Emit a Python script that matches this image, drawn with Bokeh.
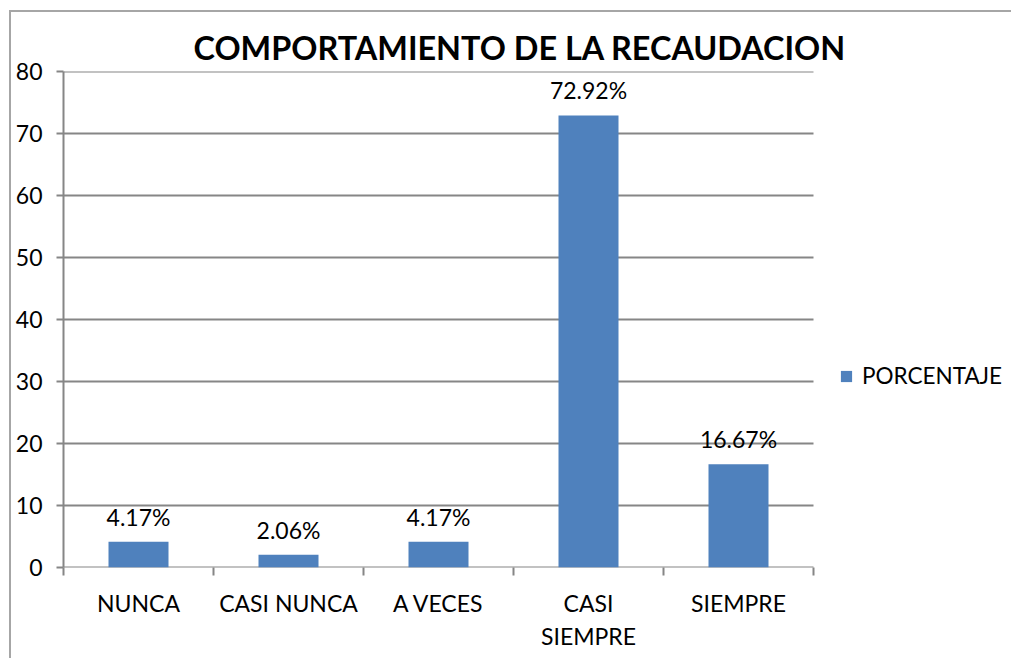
from bokeh.plotting import figure
from bokeh.models import (Range1d, FixedTicker, LinearAxis, ColumnDataSource,
                          LabelSet, Legend, LegendItem, Title)
from bokeh.core.properties import value
from bokeh.embed import file_html
from bokeh.resources import INLINE

# ---- data ----
categories = ["NUNCA", "CASI NUNCA", "A VECES", "CASI\nSIEMPRE", "SIEMPRE"]
values = [4.17, 2.06, 4.17, 72.92, 16.67]
value_labels = ["4.17%", "2.06%", "4.17%", "72.92%", "16.67%"]
y_ticks = [0, 10, 20, 30, 40, 50, 60, 70, 80]
series_name = "PORCENTAJE"
title_text = "COMPORTAMIENTO DE LA RECAUDACION"

# ---- styling ----
FONT = "Lato"
BAR = "#4F81BD"
AXIS = "#868686"
TXT = "#000000"

W, H = 1002, 648
ML, MR, MT, MB = 52, 4, 59, 93
PLOT_W = 750                      # pixel width of the category area
frame_w = W - ML - MR

n = len(categories)
xpos = [i + 0.5 for i in range(n)]
src = ColumnDataSource(dict(x=xpos, top=values, label=value_labels))
grid_src = ColumnDataSource(dict(x0=[0] * len(y_ticks), x1=[n] * len(y_ticks), y=y_ticks))

p = figure(width=W, height=H, x_range=Range1d(0, n * frame_w / PLOT_W),
           y_range=Range1d(0, y_ticks[-1]),
           output_backend="svg", toolbar_location=None, x_axis_type=None,
           min_border_left=ML, min_border_right=MR, min_border_top=MT, min_border_bottom=MB)
p.styles = {"border-left": "2px solid #a6a6a6", "border-top": "2px solid #a6a6a6",
            "margin-left": "9px", "margin-top": "10px"}
p.outline_line_color = None
p.background_fill_color = "white"
p.border_fill_color = "white"
p.xgrid.grid_line_color = None
p.ygrid.grid_line_color = None

# horizontal gridlines limited to the category area
p.segment(x0="x0", x1="x1", y0="y", y1="y", source=grid_src, line_color=AXIS, line_width=2)

bars = p.vbar(x="x", top="top", width=0.4, source=src, color=BAR, line_color=None)

# y axis
ya = p.yaxis[0]
ya.ticker = FixedTicker(ticks=y_ticks)
ya.axis_line_color = AXIS
ya.axis_line_width = 2
ya.major_tick_line_color = AXIS
ya.major_tick_line_width = 2
ya.major_tick_in = 0
ya.major_tick_out = 7
ya.minor_tick_line_color = None
ya.major_label_text_font = FONT
ya.major_label_text_font_size = "23px"
ya.major_label_text_color = TXT
ya.major_label_standoff = 14

# x tick axis (ticks at category boundaries)
xt = LinearAxis(ticker=FixedTicker(ticks=list(range(n + 1))))
xt.axis_line_color = None
xt.major_tick_line_color = AXIS
xt.major_tick_line_width = 2
xt.major_tick_in = 0
xt.major_tick_out = 8
xt.minor_tick_line_color = None
xt.major_label_overrides = {i: "" for i in range(n + 1)}
xt.major_label_text_font_size = "1px"
xt.major_label_standoff = 0
p.add_layout(xt, "below")

# x label axis (labels at category centers)
xl = LinearAxis(ticker=FixedTicker(ticks=xpos))
xl.axis_line_color = None
xl.major_tick_line_color = None
xl.minor_tick_line_color = None
xl.major_label_overrides = {x: c for x, c in zip(xpos, categories)}
xl.major_label_text_font = FONT
xl.major_label_text_font_size = "23px"
xl.major_label_text_color = TXT
xl.major_label_standoff = 7
p.add_layout(xl, "below")

# data labels
labels = LabelSet(x="x", y="top", text="label", source=src, y_offset=16,
                  text_align="center", text_baseline="alphabetic",
                  text_font=value(FONT), text_font_size=value("23px"), text_color=TXT)
p.add_layout(labels)

# title
title = Title(text=title_text, align="left", offset=130, vertical_align="bottom",
              text_font=FONT, text_font_style="bold", text_font_size="32.4px",
              text_color=TXT, standoff=10)
p.add_layout(title, "above")

# legend (inside the widened frame, right of the category area)
legend = Legend(items=[LegendItem(label=series_name, renderers=[bars])],
                location=(776, 178), orientation="vertical",
                glyph_width=14, glyph_height=14, label_standoff=9,
                label_text_font=FONT, label_text_font_size="22.5px", label_text_color=TXT,
                padding=0, margin=0, spacing=0,
                border_line_color=None, background_fill_alpha=0)
p.add_layout(legend, "center")

open("out.html", "w").write(file_html(p, INLINE))
